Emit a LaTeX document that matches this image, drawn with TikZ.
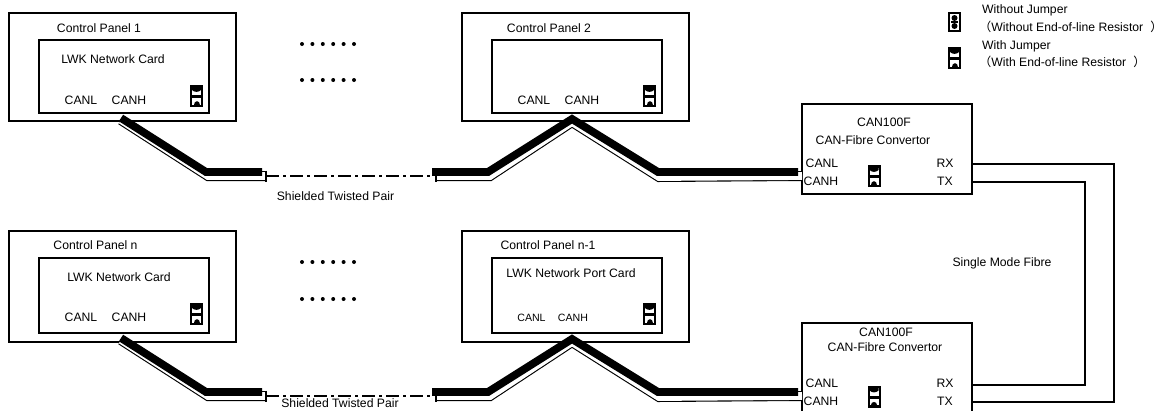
\documentclass[tikz,border=0pt]{standalone}
\usepackage{fontspec}
\setmainfont{Liberation Sans}
\newfontfamily\cjk{Noto Sans CJK SC}
\usetikzlibrary{calc}
\tikzset{
  % Boxes
  panel/.style={draw,line width=1.3pt,outer sep=0,minimum width=227,minimum height=108},
  card/.style={panel,minimum width=170,minimum height=73},
  convertor/.style={panel,minimum width=170,minimum height=90},
  % Text
  txt/.style={inner sep=0,font=\fontsize{12.2}{14}\selectfont},
  txt small/.style={inner sep=0,font=\fontsize{10.6}{12}\selectfont},
  % Cables
  cable back/.style={line width=1.1pt,double=white,double distance=7.8pt,miter limit=10},
  cable top/.style={line width=7.8pt,miter limit=10},
  cable thin/.style={line width=1.3pt,dash pattern=on 13pt off 4pt on 3pt off 4pt},
  fibre/.style={line width=1.1pt},
  % Jumpers
  jumper on/.pic={
    \fill (-6.5,-11) rectangle (6.5,11);
    \fill[white] (-4.5,-8.5) rectangle (4.5,-1);
    \fill[white] (-4.5,2) rectangle (4.5,8.5);
    \fill (-4.5,-8.5) -- (4.5,-8.5) -- (4.5,-6) .. controls (2,-3.5) and (-2,-3.5) .. (-4.5,-6) -- cycle;
    \fill (-3,8.5) .. controls (-3,4) and (3,4) .. (3,8.5) -- cycle;
  },
  jumper off/.pic={
    \draw[line width=2pt,fill=white] (-5.7,-9.3) rectangle (5.7,9.3);
    \fill (0,-4) circle (3);
    \fill (0,4) circle (3);
    \draw[line width=1.4pt] (-3.5,0) -- (3.5,0);
  }
}
\begin{document}
\begin{tikzpicture}[x=1pt,y=-1pt]
  \useasboundingbox (0,0) rectangle (1164,410);
  \clip (0,0) rectangle (1164,410);

  % Panels
  \node[panel] (panel1) at (122.5,67) {};
  \node[card] (card1) at (124,76.5) {};
  \node[panel] (panel2) at (575.5,67) {};
  \node[card] (card2) at (577,76.5) {};
  \node[panel,minimum height=111] (paneln) at (122.5,286.5) {};
  \node[card,minimum height=75] (cardn) at (124,295.5) {};
  \node[panel,minimum height=111] (panelm) at (575.5,286.5) {};
  \node[card,minimum height=75] (cardm) at (577,295.5) {};

  % Convertors
  \node[convertor] (can1) at (887,149) {};
  \node[convertor] (can2) at (887,368) {};

  % Cables, same shape in both rows
  \foreach \rowid/\dy in {up/0,low/220}{
    \coordinate (a\rowid) at (121,118+\dy);
    \coordinate (b\rowid) at (206,172+\dy);
    \coordinate (c\rowid) at (262,172+\dy);
    \coordinate (d\rowid) at (432,172+\dy);
    \coordinate (e\rowid) at (488,172+\dy);
    \coordinate (f\rowid) at (572,119+\dy);
    \coordinate (g\rowid) at (658,172+\dy);
    \coordinate (h\rowid) at (798,172+\dy);
    % white band under the black one
    \draw[cable back] ($(a\rowid)+(0,2)$) -- ($(b\rowid)+(2,4)$) -- ($(c\rowid)+(4,4)$);
    \draw[cable back] ($(d\rowid)+(4,4)$) -- ($(e\rowid)+(2,4)$) -- ($(f\rowid)+(0,3)$) -- ($(g\rowid)+(1,5)$) -- ($(h\rowid)+(4,4)$);
    \draw[line width=1.1pt] ($(c\rowid)+(4,-1.5)$) -- ($(c\rowid)+(4,9.5)$);
    \draw[line width=1.1pt] ($(d\rowid)+(4,4)$) -- ($(d\rowid)+(4,9.5)$);
    \draw[cable thin] ($(c\rowid)+(4,4)$) -- ($(d\rowid)+(0,4)$);
    \draw[cable top] (a\rowid) -- (b\rowid) -- (c\rowid);
    \draw[cable top] (d\rowid) -- (e\rowid) -- (f\rowid) -- (g\rowid) -- (h\rowid);
    % dots between the panels
    \foreach \i in {0,...,5}{
      \fill (302+10.4*\i,44+\dy-2*\dy/220) circle (2);
      \fill (302+10.4*\i,80+\dy-1*\dy/220) circle (2);
    }
  }

  % Fibre links
  \coordinate (fibreA) at (1114,164);
  \coordinate (fibreB) at (1114,402);
  \coordinate (fibreC) at (1085,182);
  \coordinate (fibreD) at (1085,385);
  \draw[fibre] (can1.east |- fibreA) -- (fibreA) -- (fibreB) -- (can2.east |- fibreB);
  \draw[fibre] (can1.east |- fibreC) -- (fibreC) -- (fibreD) -- (can2.east |- fibreD);

  % Jumpers
  \pic at (196.5,96) {jumper on};
  \pic at (649.5,96) {jumper on};
  \pic at (196.5,314) {jumper on};
  \pic at (649.5,314) {jumper on};
  \pic at (874,176) {jumper on};
  \pic at (874,396.5) {jumper on};
  \pic at (954.5,22) {jumper off};
  \pic at (954.5,58) {jumper on};

  % Labels
  \node[txt] (title1) at (99,28) {Control Panel 1};
  \node[txt] (name1) at (113,59) {LWK Network Card};
  \node[txt] (canl1) at (81,100) {CANL};
  \node[txt] (canh1) at (129,100) {CANH};
  \node[txt] (title2) at (549,28) {Control Panel 2};
  \node[txt] (canl2) at (534,100) {CANL};
  \node[txt] (canh2) at (582,100) {CANH};
  \node[txt] (titlen) at (95.5,245) {Control Panel n};
  \node[txt] (namen) at (119,277) {LWK Network Card};
  \node[txt] (canln) at (81,317) {CANL};
  \node[txt] (canhn) at (129,317) {CANH};
  \node[txt] (titlem) at (548,245) {Control Panel n-1};
  \node[txt] (namem) at (571,273) {LWK Network Port Card};
  \node[txt small] (canlm) at (531.5,318) {CANL};
  \node[txt small] (canhm) at (573,318) {CANH};
  \node[txt] (pair1) at (335.5,196) {Shielded Twisted Pair};
  \node[txt] (pair2) at (340,403) {Shielded Twisted Pair};

  \node[txt] (model1) at (884,122) {CAN100F};
  \node[txt] (type1) at (873,140) {CAN-Fibre Convertor};
  \node[txt] (l1) at (822,163) {CANL};
  \node[txt] (h1) at (821,181) {CANH};
  \node[txt] (rx1) at (945,163) {RX};
  \node[txt] (tx1) at (945,181) {TX};
  \node[txt] (model2) at (886,332) {CAN100F};
  \node[txt] (type2) at (885,347) {CAN-Fibre Convertor};
  \node[txt] (l2) at (822,383) {CANL};
  \node[txt] (h2) at (821,401) {CANH};
  \node[txt] (rx2) at (945,383) {RX};
  \node[txt] (tx2) at (945,401) {TX};
  \node[txt] (single) at (1002,263) {Single Mode Fibre};

  % Legend
  \node[txt,anchor=west] (leg1) at (982,10) {Without Jumper};
  \node[txt,anchor=west] (leg2) at (979,27) {{\cjk （}Without End-of-line Resistor\hspace{7pt}{\cjk ）}};
  \node[txt,anchor=west] (leg3) at (982,46) {With Jumper};
  \node[txt,anchor=west] (leg4) at (979,62) {{\cjk （}With End-of-line Resistor\hspace{7pt}{\cjk ）}};
\end{tikzpicture}
\end{document}
